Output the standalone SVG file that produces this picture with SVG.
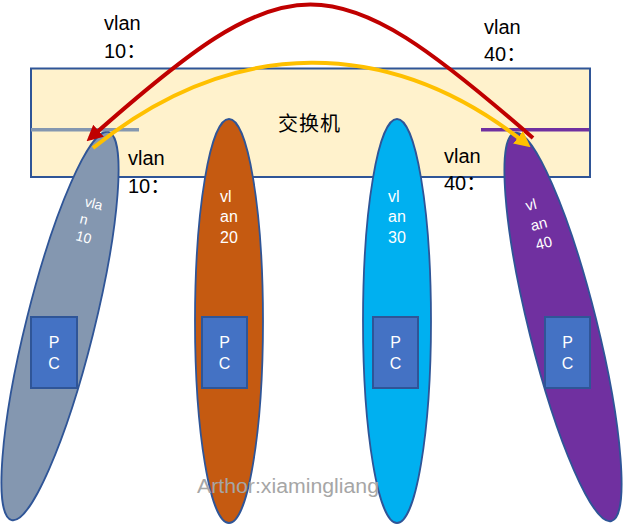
<svg xmlns="http://www.w3.org/2000/svg" width="624" height="524" viewBox="0 0 624 524">
<style>
.lbl{font-family:"Liberation Sans","Noto Sans CJK SC",sans-serif;font-size:20px;fill:#000}
.wt{font-family:"Liberation Sans",sans-serif;fill:#fff}
.ell{stroke:#2F5597;stroke-width:1.8}
.pc{fill:#4472C4;stroke:#2F5597;stroke-width:2}
.pct{font-family:"Liberation Sans",sans-serif;font-size:16px;fill:#fff;text-anchor:middle}
.arc{fill:none;stroke-width:4}
</style>
<defs>
<marker id="ahRed" markerUnits="userSpaceOnUse" markerWidth="16" markerHeight="16" viewBox="0 0 14 14" refX="10" refY="7" orient="auto">
<path d="M0,0 L14,7 L0,14 z" fill="#C00000"/>
</marker>
<marker id="ahYel" markerUnits="userSpaceOnUse" markerWidth="16" markerHeight="16" viewBox="0 0 14 14" refX="10" refY="7" orient="auto">
<path d="M0,0 L14,7 L0,14 z" fill="#FFC000"/>
</marker>
</defs>
<rect width="624" height="524" fill="#fff"/>
<g id="switch">
<rect x="31" y="68.5" width="559" height="108.5" fill="#FFF2CC" stroke="#2F5597" stroke-width="2"/>
<text x="278" y="131" font-family="Noto Sans CJK SC,sans-serif" font-size="20" letter-spacing="1">交换机</text>
</g>
<g id="vlan10">
<ellipse class="ell" cx="60" cy="326" rx="34" ry="200" fill="#8497B0" transform="rotate(14 60 326)"/>
<rect x="31" y="128" width="108" height="3.5" fill="#8497B0"/>
<text class="wt" font-size="14" transform="translate(84 206) rotate(14)">vla</text>
<text class="wt" font-size="14" transform="translate(79 223) rotate(14)">n</text>
<text class="wt" font-size="14" transform="translate(75 240) rotate(14)">10</text>
<rect class="pc" x="31" y="317" width="46" height="71"/>
<text class="pct" x="54" y="348">P</text>
<text class="pct" x="54" y="369">C</text>
</g>
<g id="vlan20">
<ellipse class="ell" cx="229" cy="321" rx="34" ry="202" fill="#C55A11"/>
<text class="wt" font-size="16" x="220" y="202">vl</text>
<text class="wt" font-size="16" x="220" y="222">an</text>
<text class="wt" font-size="16" x="220" y="243">20</text>
<rect class="pc" x="202" y="317" width="45" height="71"/>
<text class="pct" x="224.5" y="348">P</text>
<text class="pct" x="224.5" y="369">C</text>
</g>
<g id="vlan30">
<ellipse class="ell" cx="397" cy="321" rx="34" ry="202" fill="#00B0F0"/>
<text class="wt" font-size="16" x="388" y="202">vl</text>
<text class="wt" font-size="16" x="388" y="222">an</text>
<text class="wt" font-size="16" x="388" y="243">30</text>
<rect class="pc" x="373" y="317" width="45" height="71"/>
<text class="pct" x="395.5" y="348">P</text>
<text class="pct" x="395.5" y="369">C</text>
</g>
<g id="vlan40">
<ellipse class="ell" cx="563" cy="327" rx="34" ry="200" fill="#7030A0" transform="rotate(-14 563 327)"/>
<rect x="481" y="128" width="108" height="3.5" fill="#7030A0"/>
<text class="wt" font-size="15" transform="translate(527 211) rotate(-14)">vl</text>
<text class="wt" font-size="15" transform="translate(532 231) rotate(-14)">an</text>
<text class="wt" font-size="15" transform="translate(537 250) rotate(-14)">40</text>
<rect class="pc" x="545" y="317" width="45" height="71"/>
<text class="pct" x="567.5" y="348">P</text>
<text class="pct" x="567.5" y="369">C</text>
</g>
<g id="labels">
<text class="lbl" x="104" y="30">vlan</text>
<text class="lbl" x="104" y="58">10：</text>
<text class="lbl" x="484" y="34">vlan</text>
<text class="lbl" x="484" y="61">40：</text>
<text class="lbl" x="128" y="165">vlan</text>
<text class="lbl" x="128" y="193">10：</text>
<text class="lbl" x="444" y="163">vlan</text>
<text class="lbl" x="444" y="190">40：</text>
<text x="197" y="493" font-family="Liberation Sans,sans-serif" font-size="20" fill="#A6A6A6" textLength="182" lengthAdjust="spacingAndGlyphs">Arthor:xiamingliang</text>
</g>
<g id="connectors">
<path class="arc" stroke="#C00000" d="M533,138 C329,-40 291,-40 90,138.3" marker-end="url(#ahRed)"/>
<path class="arc" stroke="#FFC000" d="M93,148 C233,35 390,35 527,144.5" marker-end="url(#ahYel)"/>
</g>
</svg>
